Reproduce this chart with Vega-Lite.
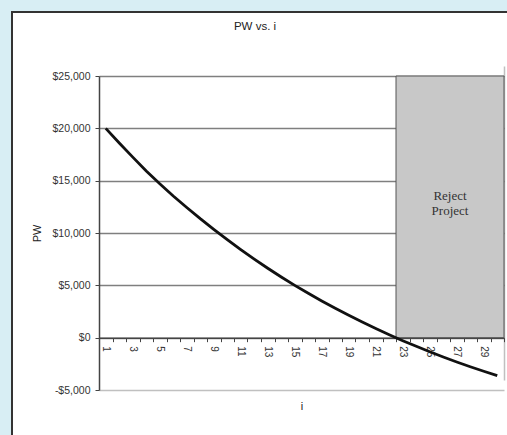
{
  "$schema": "https://vega.github.io/schema/vega-lite/v6.json",
  "width": 502,
  "height": 432,
  "autosize": "none",
  "padding": {"left": 12, "top": 12, "right": -7, "bottom": -9},
  "background": "#d8eef4",
  "config": {
    "view": {"fill": "white", "stroke": "#333333", "strokeWidth": 2},
    "font": "Liberation Sans"
  },
  "title": {
    "text": "PW vs. i",
    "offset": -20,
    "dx": -8,
    "fontSize": 11.5,
    "fontWeight": "normal",
    "color": "#222222",
    "font": "Liberation Sans"
  },
  "datasets": {
    "pw": [
      {"i": 1, "pw": 20000}, {"i": 2, "pw": 18604}, {"i": 3, "pw": 17250},
      {"i": 4, "pw": 15930}, {"i": 5, "pw": 14700}, {"i": 6, "pw": 13540},
      {"i": 7, "pw": 12440}, {"i": 8, "pw": 11370}, {"i": 9, "pw": 10348},
      {"i": 10, "pw": 9358}, {"i": 11, "pw": 8410}, {"i": 12, "pw": 7502},
      {"i": 13, "pw": 6633}, {"i": 14, "pw": 5799}, {"i": 15, "pw": 5001},
      {"i": 16, "pw": 4237}, {"i": 17, "pw": 3505}, {"i": 18, "pw": 2803},
      {"i": 19, "pw": 2131}, {"i": 20, "pw": 1488}, {"i": 21, "pw": 871},
      {"i": 22, "pw": 281}, {"i": 23, "pw": -286}, {"i": 24, "pw": -827},
      {"i": 25, "pw": -1346}, {"i": 26, "pw": -1844}, {"i": 27, "pw": -2320},
      {"i": 28, "pw": -2776}, {"i": 29, "pw": -3213}, {"i": 30, "pw": -3632}
    ],
    "reject": [{"i": 22.5, "i2": 30.5, "pw": 0, "pw2": 25000}],
    "label": [{"i": 26.5, "pw": 13500, "label": "Reject\nProject"}]
  },
  "encoding": {
    "x": {
      "field": "i",
      "type": "quantitative",
      "scale": {"domain": [0.5, 30.5], "range": [87, 492], "nice": false, "zero": false},
      "axis": {
        "title": "i",
        "values": [0.5, 1.5, 2.5, 3.5, 4.5, 5.5, 6.5, 7.5, 8.5, 9.5, 10.5, 11.5, 12.5, 13.5, 14.5, 15.5, 16.5, 17.5, 18.5, 19.5, 20.5, 21.5, 22.5, 23.5, 24.5, 25.5, 26.5, 27.5, 28.5, 29.5, 30.5],
        "offset": -106.33,
        "labelAngle": 90,
        "labelOffset": 6.75,
        "labelExpr": "datum.value < 30 && (datum.value + 0.5) % 2 === 1 ? '' + (datum.value + 0.5) : ''",
        "labelOverlap": false,
        "labelFlush": false,
        "labelBound": false,
        "labelFontSize": 10,
        "labelColor": "#333333",
        "labelPadding": 4,
        "tickSize": 4,
        "tickColor": "#444444",
        "domainColor": "#444444",
        "domainWidth": 1.5,
        "grid": true,
        "gridColor": "#c0c0c0",
        "gridWidth": 1.5,
        "gridOpacity": {"condition": {"test": "datum.value === 30.5", "value": 1}, "value": 0},
        "titleFontSize": 11,
        "titleFontWeight": "normal",
        "titleColor": "#222222",
        "titlePadding": 44
      }
    },
    "y": {
      "field": "pw",
      "type": "quantitative",
      "scale": {"domain": [-5000, 25000], "range": [378, 64], "nice": false, "zero": false},
      "axis": {
        "title": "PW",
        "values": [-5000, 0, 5000, 10000, 15000, 20000, 25000],
        "offset": -87,
        "labelExpr": "datum.value < 0 ? '-$' + format(-datum.value, ',') : '$' + format(datum.value, ',')",
        "labelFontSize": 10.5,
        "labelColor": "#333333",
        "labelPadding": 5,
        "tickSize": 4,
        "tickColor": "#444444",
        "domainColor": "#444444",
        "domainWidth": 1.5,
        "grid": true,
        "gridColor": {"condition": {"test": "datum.value === -5000", "value": "#c0c0c0"}, "value": "#7f7f7f"},
        "gridWidth": 1.5,
        "titleFontSize": 11,
        "titleFontWeight": "normal",
        "titleColor": "#222222",
        "titlePadding": 10
      }
    }
  },
  "layer": [
    {
      "data": {"name": "reject"},
      "mark": {"type": "rect", "fill": "#c8c8c8", "stroke": "#555555", "strokeWidth": 1},
      "encoding": {"x2": {"field": "i2"}, "y2": {"field": "pw2"}}
    },
    {
      "data": {"name": "pw"},
      "mark": {"type": "line", "color": "#111111", "strokeWidth": 2.8},
      "encoding": {}
    },
    {
      "data": {"name": "label"},
      "mark": {"type": "text", "font": "Liberation Serif", "fontSize": 13, "color": "#333333", "lineBreak": "\n", "lineHeight": 15},
      "encoding": {"text": {"field": "label"}}
    }
  ]
}
